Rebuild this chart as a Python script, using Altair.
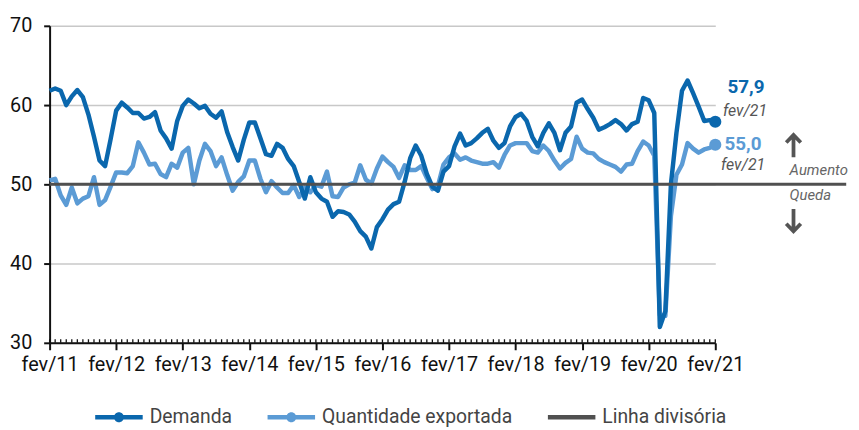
import altair as alt
import pandas as pd

# ---- data (monthly, fev/11 .. fev/21) ----
demanda = [
    61.8, 62.1, 61.8, 60.0, 61.1, 61.9, 61.0, 58.8, 56.0, 53.0, 52.3, 55.7,
    59.3, 60.3, 59.7, 59.0, 59.0, 58.3, 58.5, 59.1, 56.8, 55.8, 54.5, 58.0,
    59.9, 60.7, 60.2, 59.6, 59.9, 58.9, 58.4, 59.2, 56.6, 54.7, 53.0, 55.6,
    57.8, 57.8, 55.8, 53.8, 53.6, 55.1, 54.6, 53.2, 52.3, 50.3, 48.2, 50.9,
    49.0, 48.2, 47.8, 45.9, 46.6, 46.5, 46.2, 45.3, 44.1, 43.4, 41.9, 44.6,
    45.6, 46.8, 47.5, 47.8, 50.3, 53.3, 54.9, 53.6, 51.3, 49.7, 49.2, 51.6,
    52.3, 54.8, 56.4, 54.9, 55.2, 55.8, 56.5, 57.0, 55.5, 54.6, 55.2, 57.3,
    58.5, 58.9, 58.0, 56.0, 54.8, 56.5, 57.7, 56.5, 54.3, 56.5, 57.3, 60.3,
    60.7, 59.5, 58.4, 56.9, 57.2, 57.6, 58.1, 57.6, 56.8, 57.6, 57.9, 60.9,
    60.6, 59.0, 32.0, 34.0, 50.0, 56.5, 61.8, 63.1, 61.5, 59.8, 58.0, 58.1,
    57.9,
]
quantidade = [
    50.5, 50.7, 48.6, 47.4, 49.6, 47.6, 48.2, 48.5, 50.9, 47.4, 48.0, 49.7,
    51.5, 51.5, 51.4, 52.3, 55.3, 54.0, 52.5, 52.6, 51.3, 50.9, 52.6, 52.1,
    54.0, 54.6, 50.0, 53.0, 55.1, 54.2, 52.3, 53.4, 51.2, 49.2, 50.3, 51.0,
    53.0, 53.0, 50.7, 49.0, 50.4, 49.6, 48.9, 48.9, 49.9, 48.4, 49.6, 49.0,
    49.9, 49.7, 51.6, 48.5, 48.4, 49.6, 50.0, 50.2, 52.4, 50.6, 50.1, 52.0,
    53.5, 52.8, 52.2, 50.8, 52.4, 51.8, 51.8, 52.3, 50.8, 49.4, 49.8, 52.5,
    53.4, 53.9, 53.1, 53.4, 53.0, 52.8, 52.6, 52.6, 52.8, 52.1, 53.7, 54.9,
    55.2, 55.2, 55.2, 54.2, 54.0, 54.9, 54.2, 53.0, 52.0, 52.7, 53.2, 56.0,
    54.5, 54.0, 53.9, 53.2, 52.8, 52.5, 52.2, 51.6, 52.5, 52.6, 54.2, 55.4,
    54.9, 53.6, 33.5, 33.4, 46.0, 51.2, 52.5, 55.2, 54.5, 54.0, 54.4, 54.6,
    55.0,
]
x_labels = ["fev/11", "fev/12", "fev/13", "fev/14", "fev/15", "fev/16",
            "fev/17", "fev/18", "fev/19", "fev/20", "fev/21"]
y_ticks = [30, 40, 50, 60, 70]
series_names = ["Demanda", "Quantidade exportada", "Linha divisória"]
dividing_value = 50
last_labels = ["57,9", "55,0"]
last_period = "fev/21"
direction_labels = ["Aumento", "Queda"]

n = len(demanda)
months = list(range(n))
year_ticks = list(range(0, n, 12))

FONT = "Roboto"
DARK = "#0a67ad"
LIGHT = "#5b9bd5"
GRAY = "#505050"

df_dem = pd.DataFrame({"m": months, "v": demanda})
df_qty = pd.DataFrame({"m": months, "v": quantidade})
last_dem = df_dem[df_dem.m == n - 1].assign(lab=last_labels[0])
last_qty = df_qty[df_qty.m == n - 1].assign(lab=last_labels[1])

# legend symbols (filled paths): line with a dot, and a plain line
h = 0.095
PATH_DOT = ("M-1,-%g H1 V%g H-1 Z M0.21,0 A0.21,0.21,0,1,1,-0.21,0 A0.21,0.21,0,1,1,0.21,0 Z" % (h, h))
PATH_LINE = "M-1,-%g H1 V%g H-1 Z" % (h, h)

legend = alt.Legend(
    title=None, orient="none", direction="horizontal",
    legendX=46, legendY=371,
    symbolSize=2300, symbolStrokeWidth=0, symbolOpacity=1,
    labelFont=FONT, labelFontSize=19.5, labelColor="#444444", labelLimit=400,
    labelOffset=7, columnPadding=35, padding=0,
)
color_leg = alt.Color("s:N", scale=alt.Scale(domain=series_names, range=[DARK, LIGHT, GRAY]), legend=legend)
shape_leg = alt.Shape("s:N", scale=alt.Scale(domain=series_names, range=[PATH_DOT, PATH_DOT, PATH_LINE]), legend=legend)

xscale = alt.Scale(domain=[0, n - 1], nice=False, zero=False)
yscale = alt.Scale(domain=[30, 70], nice=False, zero=False)

label_expr = "[" + ",".join("'%s'" % t for t in x_labels) + "][round(datum.value/12)]"

base_x = alt.X("m:Q", scale=xscale, axis=alt.Axis(
    values=year_ticks, labelExpr=label_expr, title=None, grid=False,
    labelOverlap=False, labelFlush=False,
    tickSize=7, tickWidth=2, tickColor="#111111", domainWidth=2, domainColor="#111111",
    labelFont=FONT, labelFontSize=20, labelColor="#111111", labelPadding=5,
))
base_y = alt.Y("v:Q", scale=yscale, axis=alt.Axis(
    values=y_ticks, title=None, grid=True, gridColor="#c8c8c8", gridWidth=1.5,
    tickSize=6, tickWidth=2, tickColor="#111111", domainWidth=2, domainColor="#111111",
    labelFont=FONT, labelFontSize=20, labelColor="#111111", labelPadding=12,
))

line_qty = alt.Chart(df_qty).mark_line(strokeWidth=4.5, strokeJoin="round", color=LIGHT).encode(
    x=base_x, y=base_y)
line_dem = alt.Chart(df_dem).mark_line(strokeWidth=4.5, strokeJoin="round", color=DARK).encode(
    x="m:Q", y="v:Q")

rule_df = pd.DataFrame({"x0": [0], "x1": [143.6], "y": [dividing_value]})
rule = alt.Chart(rule_df).mark_rule(strokeWidth=3, color=GRAY).encode(
    x="x0:Q", x2="x1:Q", y="y:Q")

minor = alt.Chart(pd.DataFrame({"m": months})).mark_rule(color="#111111", strokeWidth=1.3).encode(
    x="m:Q", y=alt.datum(30), y2=alt.datum(30.45))

dot_dem = alt.Chart(last_dem).mark_circle(size=150, opacity=1, color=DARK).encode(x="m:Q", y="v:Q")
dot_qty = alt.Chart(last_qty).mark_circle(size=150, opacity=1, color=LIGHT).encode(x="m:Q", y="v:Q")

# invisible layer that only carries the legend
leg_df = pd.DataFrame({"s": series_names, "m": [n - 1] * 3, "v": [dividing_value] * 3})
leg_layer = alt.Chart(leg_df).mark_point(filled=True, opacity=0, size=1).encode(
    x="m:Q", y="v:Q", color=color_leg, shape=shape_leg)

t1 = alt.Chart(last_dem).mark_text(
    font=FONT, fontSize=19, fontWeight="bold", align="center", dx=31, dy=-35, color=DARK
).encode(x="m:Q", y="v:Q", text="lab:N")
t2 = alt.Chart(last_dem).mark_text(
    font=FONT, fontSize=16, fontStyle="italic", align="center", dx=30, dy=-11, color="#555555"
).encode(x="m:Q", y="v:Q", text=alt.value(last_period))
t3 = alt.Chart(last_qty).mark_text(
    font=FONT, fontSize=19, fontWeight="bold", align="center", dx=28, dy=-1, color=LIGHT
).encode(x="m:Q", y="v:Q", text="lab:N")
t4 = alt.Chart(last_qty).mark_text(
    font=FONT, fontSize=16, fontStyle="italic", align="center", dx=28, dy=21, color="#555555"
).encode(x="m:Q", y="v:Q", text=alt.value(last_period))

dir_df = pd.DataFrame({"m": [133.4, 133.4], "v": [51.75, 48.6], "t": direction_labels})
dir_text = alt.Chart(dir_df).mark_text(
    font=FONT, fontSize=15, fontStyle="italic", align="left", baseline="middle", color="#666666"
).encode(x="m:Q", y="v:Q", text="t:N")

ARROW_UP = "M0,1 V-0.85 M-0.62,-0.25 L0,-0.9 L0.62,-0.25"
ARROW_DOWN = "M0,-1 V0.85 M-0.62,0.25 L0,0.9 L0.62,0.25"
arrow_up = alt.Chart(pd.DataFrame({"m": [134.1], "v": [54.9]})).mark_point(
    shape=ARROW_UP, filled=False, strokeWidth=3.8, size=560, opacity=1, color="#555555"
).encode(x="m:Q", y="v:Q")
arrow_down = alt.Chart(pd.DataFrame({"m": [134.1], "v": [45.4]})).mark_point(
    shape=ARROW_DOWN, filled=False, strokeWidth=3.8, size=560, opacity=1, color="#555555"
).encode(x="m:Q", y="v:Q")

chart = alt.layer(
    line_qty, line_dem, rule, minor, dot_qty, dot_dem, leg_layer, t1, t2, t3, t4,
    dir_text, arrow_up, arrow_down
).properties(
    width=672, height=320,
    autosize=alt.AutoSizeParams(type="none"),
    padding={"left": 42, "top": 16, "right": 137, "bottom": 84},
).configure_view(stroke=None)

chart.save("out.html", embed_options={"renderer": "svg", "actions": False})
